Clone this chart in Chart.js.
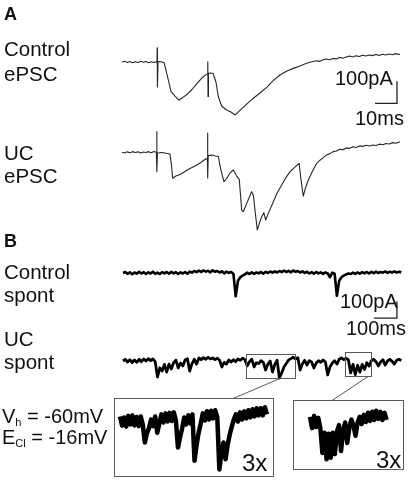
<!DOCTYPE html>
<html><head><meta charset="utf-8">
<script src="https://cdn.jsdelivr.net/npm/chart.js@4.4.1/dist/chart.umd.min.js"></script>
<style>
html,body{margin:0;padding:0;background:#fff;width:408px;height:482px;overflow:hidden;}
#fig{position:relative;width:408px;height:482px;font-family:"Liberation Sans",Arial,sans-serif;color:#111;}
canvas{position:absolute;}
.t{position:absolute;white-space:nowrap;line-height:1;}
.t sub{font-size:11px;vertical-align:-3px;line-height:0;}
svg{position:absolute;left:0;top:0;}
</style></head><body><div id="fig"></div>
<script>
// ---------- DATA (ms, pA) ----------
// A: evoked PSCs
const ctrlEpscT = [0,1.2,2.4,3.6,4.8,6,7.3,8.5,9.7,10.9,12.1,13.3,14.5,15.5,15.9,16.0,16.1,16.4,17.7,19.1,20.5,22.3,24.1,25.9,27.7,29.5,31.8,34.1,36.8,38.6,38.9,39.0,39.1,39.3,40,41.4,42.7,43.8,45.3,47.6,49.5,51.4,53.2,55.1,57.3,59.7,62.7,65.8,68.6,71.8,75,77.9,80.9,83.9,85.4,86.9,88.4,89.9,91.4,92.9,94.4,95.9,97.4,98.9,100.4,101.9,103.4,104.9,106.4,107.9,109.4,110.9,112.4,113.9,115.4,116.9,118.4,119.9,121.4,122.9,124.4,125.9,126.4];
const ctrlEpscI = [0,3,-2,2,-3,1,-2,3,-1,2,-3,1,-2,1,0,64,-114,2,1,-2,-59,-135,-155,-173,-161,-148,-125,-97,-68,-55,-53,1,-157,-52,-50,-52,-91,-158,-200,-218,-227,-241,-223,-206,-186,-165,-141,-115,-86,-59,-41,-29,-18,-6,-1,2,6,3,10,14,10,16,14,21,17,23,27,23,28,25,31,27,32,29,34,30,35,32,36,33,38,34,36];
const ucEpscT = [0,1.2,2.4,3.6,4.8,6,7.3,8.5,9.7,10.9,12.1,13.3,14.5,15.6,15.8,15.9,16.1,18.2,20,21.8,22.5,23,24.5,26.4,28.6,30.9,33.2,35.5,37.3,38.8,38.9,39.0,39.2,40.9,42.3,43.8,44.5,45.5,46.4,47.7,49.1,50.6,52.1,53.3,54.4,55.1,56.8,58.9,59.7,60.7,61.5,62.5,63.5,64.5,65.3,66.4,68.8,70.5,72.6,74.5,76.4,78.6,80.5,81.4,82.4,83.4,84.7,86.4,88.5,90,91.5,93,94.5,96,97.5,99,100.5,102,103.5,105,106.5,108,109.5,111,112.5,114,115.5,117,118.5,120,121.5,123,124.5,126.4];
const ucEpscI = [0,-3,2,-2,3,-1,2,-3,1,-1,3,-2,4,0,94,-88,-3,-1,-4,-8,-58,-118,-108,-101,-87,-74,-62,-49,-35,-27,88,-117,-15,-12,-17,-19,-58,-103,-134,-117,-94,-80,-108,-123,-262,-270,-230,-179,-194,-285,-353,-321,-293,-275,-308,-280,-225,-185,-149,-115,-88,-67,-50,-126,-199,-162,-126,-90,-50,-36,-24,-12,-6,3,6,14,12,20,18,25,22,29,27,32,29,33,31,37,34,40,38,44,41,48];
// scale bar A: 10 ms x 100 pA
const barAT = [115,125,125];
const barAI = [-188,-188,-88];

// B: spontaneous PSCs, sampled every 10 ms
const spontDt = 10;
const ctrlSpontI = [0,6,-5,4,-7,3,-4,7,-3,5, -6,4,-3,8,-5,2,-6,5,-2,6, -4,7,-2,5,-6,4,-3,6,-5,8,
  2,12,5,14,6,15,8,13,4,16, 7,12,3,10,-2,8,1,6,-4,-137, -45,-25,-15,-8,2,-6,4,-5,3,-2,
  6,-4,7,0,9,2,10,3,12,5, 14,6,13,4,15,7,12,3,10,1, 7,-3,5,-4,6,-2,4,-5,3,-3,
  -25,2,-4,-134,-45,-25,-15,-8,-3,-6, 2,-5,3,-4,5,-2,6,-3,7,-1, 8,0,6,2,9,1,7,3,10,2,8,4];
const ucSpontI = [0,10,-6,8,-10,6,-8,10,-4,12, 0,14,2,12,-4,-94,-40,-59,-20,-65, -18,-47,-10,5,-41,-12,-29,6,14,-59,
  -15,10,-18,18,8,20,10,22,12,18, 8,16,4,-35,-8,-18,6,-6,8,-4, 12,4,16,8,-29,-4,10,-35,-10,-15,
  2,-8,-53,-18,0,-65,-20,4,-100,-70, -35,-15,6,14,22,12,20,-53,-18,4, -24,2,-6,-41,-12,2,-8,6,-6,-82,
  -35,-12,2,-18,10,18,8,16,6,-70, -20,-80,-25,-65,-20,-50,-10,-30,2,10, -4,-29,-6,8,-24,0,10,-2,-18,4,10,2];
// scale bar B: 100 ms x 100 pA
const barBT = [1091,1191,1191];
const barBI = [-266,-266,-166];

// 3x insets, sampled every 3 ms
const insetDt = 3;
const inset1I = [9,-9,7,-11,10,-7,11,-9,8,-10,9,-7, -42,-24,-14,3,-10,9, -23,-5,13,-3,15,-1,16,0,17,1,
  -52,-32,-15,7,-7,11,-5,13, -78,-47,-23,-5,15,1,19,3,20,5,21,7,
  -95,-62,-42,-75,-47,-27,-11,3,13,-1,17,3, 19,5,21,7,23,9,25,11,25,11,27,13];
const inset2I = [11,-11,13,-9,9,-11, -60,-20,-72,-22,-69,-20,-62,-18,-5,-56,-16,0,-40,-10,6,-6,-26,0,
  11,-3,15,1,19,3,21,5,23,7,21,5,19,5];

// ---------- LAYOUT ----------
const fig = document.getElementById('fig');
function times(n, dt){ const a=[]; for(let k=0;k<n;k++) a.push(k*dt); return a; }
function makeTrace(box, map, series){
  const c = document.createElement('canvas');
  c.width = box.w; c.height = box.h;
  c.style.left = box.x+'px'; c.style.top = box.y+'px';
  fig.appendChild(c);
  const xmin = (box.x - map.x0)/map.sx, xmax = (box.x + box.w - map.x0)/map.sx;
  const ymax = (map.y0 - box.y)/map.sy, ymin = (map.y0 - box.y - box.h)/map.sy;
  new Chart(c, {
    type:'scatter',
    data:{datasets: series.map(s=>({
      data: s.t.map((t,k)=>({x:t, y:s.v[k]})),
      showLine:true, pointRadius:0, borderColor:s.color, borderWidth:s.width,
      tension:0, clip:false, borderJoinStyle:s.join||'round', borderCapStyle:'butt'
    }))},
    options:{responsive:false, animation:false, events:[], layout:{padding:0},
      plugins:{legend:{display:false}, tooltip:{enabled:false}},
      scales:{x:{type:'linear', display:false, min:xmin, max:xmax},
              y:{type:'linear', display:false, min:ymin, max:ymax}}}
  });
}
const traceCol = '#262626';
// A
makeTrace({x:112,y:40,w:294,h:84}, {x0:122, sx:2.2, y0:62, sy:0.22}, [
  {t:ctrlEpscT, v:ctrlEpscI, color:traceCol, width:1.1},
  {t:barAT, v:barAI, color:'#222', width:1.3, join:'miter'}]);
makeTrace({x:112,y:125,w:294,h:112}, {x0:122, sx:2.2, y0:152.3, sy:0.22}, [
  {t:ucEpscT, v:ucEpscI, color:traceCol, width:1.1}]);
// B
makeTrace({x:112,y:258,w:294,h:66}, {x0:123, sx:0.23, y0:273, sy:0.17}, [
  {t:times(ctrlSpontI.length, spontDt), v:ctrlSpontI, color:'#000', width:2.6},
  {t:barBT, v:barBI, color:'#222', width:1.3, join:'miter'}]);
makeTrace({x:112,y:345,w:294,h:40}, {x0:123, sx:0.23, y0:361, sy:0.17}, [
  {t:times(ucSpontI.length, spontDt), v:ucSpontI, color:'#000', width:2.8}]);
makeTrace({x:115,y:399,w:158,h:77}, {x0:120, sx:0.69, y0:421, sy:0.51}, [
  {t:times(inset1I.length, insetDt), v:inset1I, color:'#000', width:4.5}]);
makeTrace({x:294,y:401,w:108,h:68}, {x0:310, sx:0.69, y0:422.5, sy:0.51}, [
  {t:times(inset2I.length, insetDt), v:inset2I, color:'#000', width:4.5}]);

// boxes and connectors
fig.insertAdjacentHTML('beforeend',
 '<svg width="408" height="482" viewBox="0 0 408 482" fill="none" stroke="#5a5a5a" stroke-width="1">'+
 '<rect x="246.5" y="354.5" width="49" height="24"/>'+
 '<rect x="345.5" y="352.5" width="26" height="24"/>'+
 '<rect x="114.5" y="398.5" width="159" height="78"/>'+
 '<rect x="293.5" y="400.5" width="110" height="69"/>'+
 '<line x1="280" y1="378.5" x2="233" y2="398.5"/>'+
 '<line x1="368" y1="376.5" x2="332" y2="400.5"/></svg>');

// text
function label(html, x, baseline, size, bold){
  const d = document.createElement('div');
  d.className='t'; d.innerHTML = html;
  d.style.left = x+'px'; d.style.top = (baseline - 0.8465*size)+'px';
  d.style.fontSize = size+'px'; if(bold) d.style.fontWeight='bold';
  fig.appendChild(d);
}
label('A', 4, 20, 18, true);
label('Control', 4, 56, 20.5); label('ePSC', 4, 81, 20.5);
label('UC', 4, 160, 20.5); label('ePSC', 4, 183, 20.5);
label('B', 4, 247, 18, true);
label('Control', 4, 279, 20.5); label('spont', 4, 302, 20.5);
label('UC', 4, 346, 20.5); label('spont', 4, 369, 20.5);
label('V<sub>h</sub> = -60mV', 2, 423, 20);
label('E<sub>Cl</sub> = -16mV', 2, 444, 20);
label('100pA', 335, 85, 20); label('10ms', 355, 125, 20);
label('100pA', 340, 308, 20); label('100ms', 346, 335, 20);
label('3x', 242, 471, 24); label('3x', 376, 468, 24);
</script></body></html>
